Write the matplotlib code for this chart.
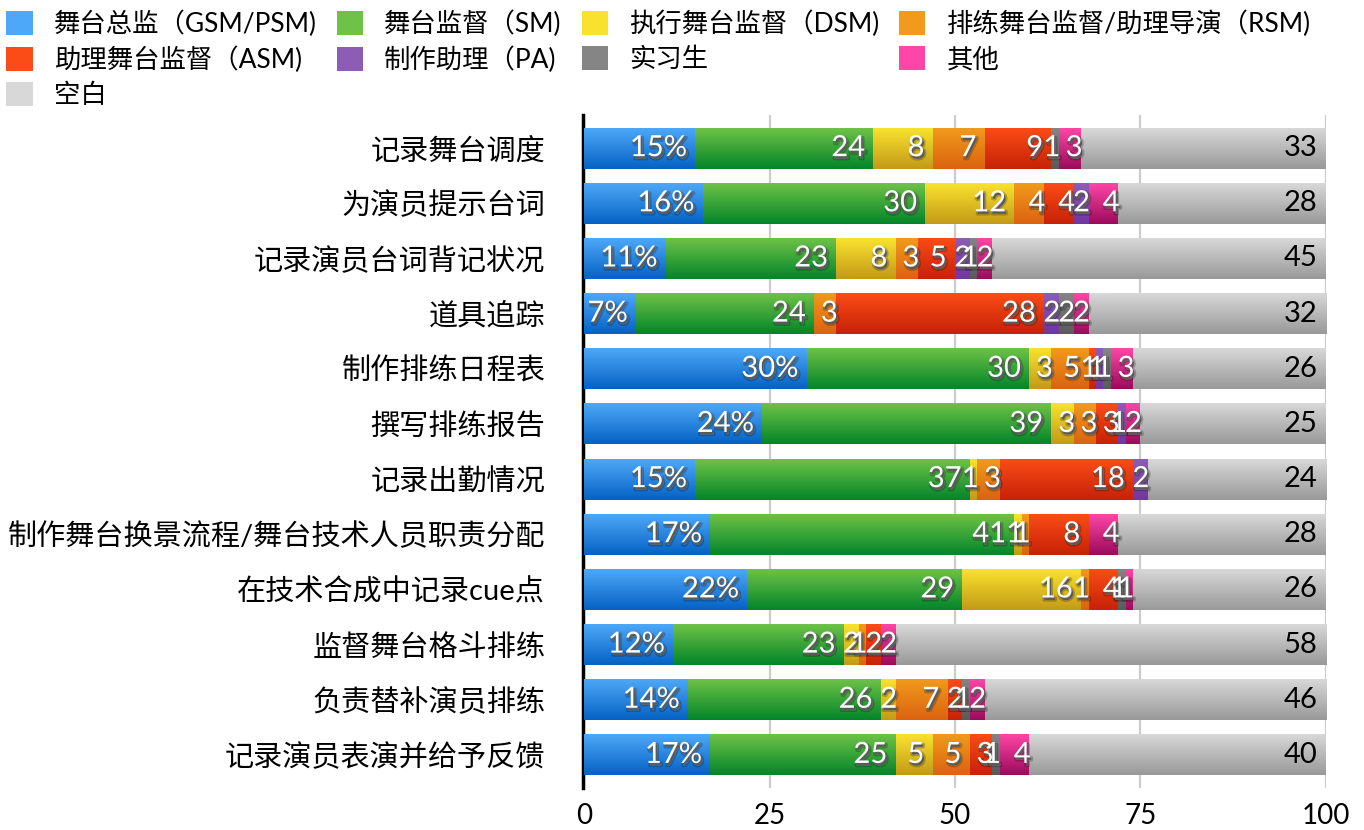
import numpy as np
import matplotlib
matplotlib.use('Agg')
import matplotlib.pyplot as plt
import matplotlib.patheffects as pe
from matplotlib.colors import to_rgb
from matplotlib.patches import Patch

plt.rcParams['font.family'] = ['Lato', 'Noto Sans CJK SC', 'DejaVu Sans']

# survey: who does each task (percent of answers)
tasks = ['记录舞台调度', '为演员提示台词', '记录演员台词背记状况', '道具追踪',
         '制作排练日程表', '撰写排练报告', '记录出勤情况',
         '制作舞台换景流程/舞台技术人员职责分配', '在技术合成中记录cue点',
         '监督舞台格斗排练', '负责替补演员排练', '记录演员表演并给予反馈']
roles = ['舞台总监（GSM/PSM)', '舞台监督（SM)', '执行舞台监督（DSM)',
         '排练舞台监督/助理导演（RSM)', '助理舞台监督（ASM)', '制作助理（PA)',
         '实习生', '其他', '空白']

gsm    = [15, 16, 11, 7, 30, 24, 15, 17, 22, 12, 14, 17]
sm     = [24, 30, 23, 24, 30, 39, 37, 41, 29, 23, 26, 25]
dsm    = [8, 12, 8, 0, 3, 3, 1, 1, 16, 2, 2, 5]
rsm    = [7, 4, 3, 3, 5, 3, 3, 1, 1, 1, 7, 5]
asm    = [9, 4, 5, 28, 1, 3, 18, 8, 4, 2, 2, 3]
pa     = [0, 2, 2, 2, 1, 1, 2, 0, 0, 0, 0, 0]
intern = [1, 0, 1, 2, 1, 0, 0, 0, 1, 0, 1, 1]
other  = [3, 4, 2, 2, 3, 2, 0, 4, 1, 2, 2, 4]
blank  = [33, 28, 45, 32, 26, 25, 24, 28, 26, 58, 46, 40]

series = [gsm, sm, dsm, rsm, asm, pa, intern, other, blank]

# (top, bottom) colours of each bar gradient
grads = [('#4ea8f8', '#0562c4'), ('#6ec247', '#03852a'), ('#f9e22e', '#c39a18'),
         ('#f19a1c', '#db6310'), ('#fb4c17', '#c62208'), ('#8d5db5', '#7236a0'),
         ('#858585', '#5a5a5a'), ('#fd46a6', '#9b0b5b'), ('#d8d8d8', '#999999')]

fig = plt.figure(figsize=(13.64, 8.3), dpi=100)
ax = fig.add_axes([0.4282, 0.0506, 0.5439, 0.8108])

y = np.arange(len(tasks))
h = 0.74
fs = 21
px_per_unit = 0.5439 * 1364 / 100
# soft drop shadow under the white value labels
shadow = [pe.Stroke(linewidth=2.5, foreground=(0, 0, 0, 0.22), offset=(1.2, -1.8)),
          pe.SimplePatchShadow(offset=(1.2, -1.8), shadow_rgbFace='black', alpha=0.55),
          pe.Normal()]

left = np.zeros(len(tasks))
for k, vals in enumerate(series):
    vals = np.array(vals, dtype=float)
    top, bot = grads[k]
    bars = ax.barh(y, vals, left=left, height=h, color=grads[k][1], linewidth=0, zorder=2)
    ramp = np.linspace(0, 1, 64)[:, None, None]
    img = (1 - ramp) * np.array(to_rgb(top)) + ramp * np.array(to_rgb(bot))
    for rect, v in zip(bars, vals):
        if v <= 0:
            continue
        x0, yb = rect.get_x(), rect.get_y()
        ax.imshow(img, extent=(x0, x0 + rect.get_width(), yb + h, yb),
                  aspect='auto', interpolation='bilinear', zorder=3)
        txt = f'{int(v)}%' if k == 0 else f'{int(v)}'
        # narrow segments: label sits flush with the segment end
        tw = len(txt) * 0.5 * fs * 100 / 72
        off = -6 if rect.get_width() * px_per_unit >= tw + 16 else 1
        end = (x0 + rect.get_width(), yb + h / 2)
        if k == len(series) - 1:
            ax.annotate(txt, end, xytext=(off, 0), textcoords='offset points',
                        ha='right', va='center', fontsize=fs, color='black', zorder=5)
        else:
            ax.annotate(txt, end, xytext=(off, 0), textcoords='offset points',
                        ha='right', va='center', fontsize=fs, color='white', zorder=5,
                        path_effects=shadow)
    left += vals

ax.set_xlim(0, 100)
ax.set_ylim(len(tasks) - 1 + 0.6, -0.6)
ax.set_yticks(y)
ax.set_yticklabels(tasks, fontsize=21)
ax.set_xticks([0, 25, 50, 75, 100])
ax.tick_params(axis='both', length=0, labelsize=20)
ax.tick_params(axis='y', labelsize=21, pad=27)
ax.tick_params(axis='x', pad=11)
ax.grid(axis='x', color='#cccccc', linewidth=1.6, zorder=0)
ax.set_axisbelow(True)
for s in ['top', 'right', 'bottom']:
    ax.spines[s].set_visible(False)
ax.spines['left'].set_linewidth(2.5)
ax.spines['left'].set_color('black')
ax.spines['left'].set_position(('outward', 1))

# legend laid out row by row across four columns
handles = [Patch(facecolor=grads[i][0], edgecolor='none') for i in range(len(roles))]
order = [0, 4, 8, 1, 5, 2, 6, 3, 7]
fig.legend([handles[i] for i in order], [roles[i] for i in order],
           loc='upper left', bbox_to_anchor=(-0.003, 1.0), ncol=4, frameon=False,
           fontsize=19, handlelength=1.0, handleheight=1.0, handletextpad=0.8,
           columnspacing=0.75, labelspacing=0.35, borderpad=0.2, borderaxespad=0.2)

fig.savefig('out.png', dpi=100)
